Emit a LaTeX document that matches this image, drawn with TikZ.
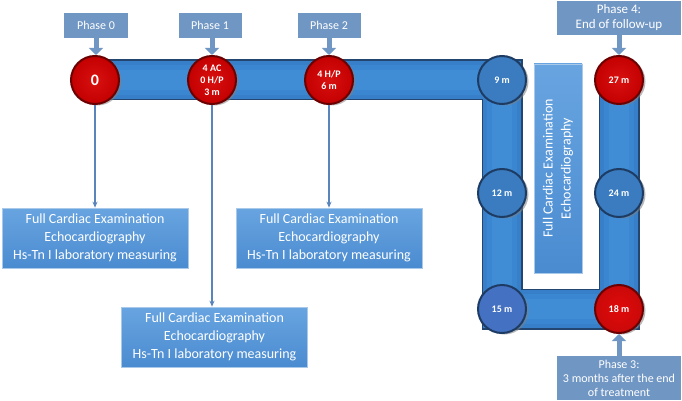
\documentclass[tikz,border=0pt]{standalone}
\usepackage{fontspec}
\setmainfont{Carlito}
\usetikzlibrary{arrows.meta,shadows}
\definecolor{phasecol}{HTML}{7096C4}
\definecolor{infotop}{HTML}{68A4E0}
\definecolor{infobot}{HTML}{4A8BD0}
\definecolor{infoedge}{HTML}{A9C9EA}
\definecolor{conncol}{HTML}{5A84BC}
\definecolor{bandedge}{HTML}{22466F}
\definecolor{bandblue}{HTML}{3780C9}
\definecolor{bandmid}{HTML}{3B86D0}
\definecolor{bandlight}{HTML}{408DD6}
\definecolor{redmain}{HTML}{C40000}
\definecolor{redlight}{HTML}{D81010}
\definecolor{reddark}{HTML}{6A0000}
\definecolor{brightred}{HTML}{E00A0A}
\definecolor{bluemain}{HTML}{3A7CBF}
\definecolor{bluedark}{HTML}{1E3C63}
\definecolor{purpblue}{HTML}{4471C2}
\begin{document}
\begin{tikzpicture}[x=1pt,y=-1pt,
  phasebox/.style={fill=phasecol, text=white, font=\fontsize{12}{14}\selectfont, align=center, inner sep=0pt},
  infobox/.style={top color=infotop, bottom color=infobot, draw=infoedge, line width=0.6pt, text=white,
    font=\fontsize{14}{18}\selectfont, align=center, minimum width=186pt, minimum height=60pt, inner sep=0pt},
  stage/.style={circle, minimum size=48pt, inner sep=0pt, line width=2pt, text=white,
    font=\bfseries\fontsize{10}{12}\selectfont, align=center,
    drop shadow={shadow xshift=2.5pt, shadow yshift=-1.5pt, opacity=0.55}},
  redstage/.style={stage, draw=reddark, inner color=redlight, outer color=redmain},
  brightstage/.style={stage, draw=reddark, inner color=brightred, outer color=brightred!90!black},
  bluestage/.style={stage, draw=bluedark, fill=bluemain},
  purpstage/.style={stage, draw=bluedark, fill=purpblue},
  conn/.style={draw=conncol, line width=1.2pt, -{Stealth[length=6pt,width=5pt]}},
  phasearrow/.style={draw=phasecol, line width=5pt, -{Triangle[length=7pt,width=14pt]}}
]
\useasboundingbox (0,0) rectangle (682,401);

% positions
\coordinate (p0) at (95,80);
\coordinate (p3) at (212,80);
\coordinate (p6) at (329,80);
\coordinate (p9) at (502,80);
\coordinate (p12) at (502,193);
\coordinate (p15) at (502,309);
\coordinate (p18) at (619,309);
\coordinate (p24) at (619,193);
\coordinate (p27) at (619,80);

% band
\draw[line width=41pt, bandedge, line join=miter] (p0) -- (p9) -- (p15) -- (p18) -- (p27);
\draw[line width=38pt, bandblue, line join=miter] (p0) -- (p9) -- (p15) -- (p18) -- (p27);
\draw[line width=30pt, bandmid, line join=miter] (p0) -- (p9) -- (p15) -- (p18) -- (p27);
\draw[line width=20pt, bandlight, line join=miter] (p0) -- (p9) -- (p15) -- (p18) -- (p27);

% stages
\node[redstage] (c0) at (p0) {\fontsize{16}{18}\selectfont 0};
\node[redstage] (c3) at (p3) {4 AC\\0 H/P\\3 m};
\node[redstage] (c6) at (p6) {4 H/P\\6 m};
\node[bluestage] (c9) at (p9) {9 m};
\node[bluestage] (c12) at (p12) {12 m};
\node[purpstage] (c15) at (p15) {15 m};
\node[brightstage] (c18) at (p18) {18 m};
\node[bluestage] (c24) at (p24) {24 m};
\node[redstage] (c27) at (p27) {27 m};

% phase labels
\node[phasebox, minimum width=64pt, minimum height=25pt] (ph0) at (96,25.5) {Phase 0};
\node[phasebox, minimum width=63pt, minimum height=25pt] (ph1) at (210,25.5) {Phase 1};
\node[phasebox, minimum width=63pt, minimum height=25pt] (ph2) at (329,25.5) {Phase 2};
\node[phasebox, minimum width=124pt, minimum height=34pt, font=\fontsize{13}{15}\selectfont] (ph4) at (619,18) {Phase 4:\\End of follow-up};
\node[phasebox, minimum width=124pt, minimum height=44pt] (ph3) at (619,378) {Phase 3:\\3 months after the end\\of treatment};

\draw[phasearrow] (ph0.south) -- (ph0.south |- c0.north);
\draw[phasearrow] (ph1.south -| c3) -- (c3.north);
\draw[phasearrow] (ph2.south) -- (ph2.south |- c6.north);
\draw[phasearrow] (ph4.south) -- (ph4.south |- c27.north);
\draw[phasearrow] (ph3.north) -- (ph3.north |- c18.south);

% info boxes
\node[infobox] (i0) at (95,238) {Full Cardiac Examination\\Echocardiography\\Hs-Tn I laboratory measuring};
\node[infobox] (i3) at (214.5,337) {Full Cardiac Examination\\Echocardiography\\Hs-Tn I laboratory measuring};
\node[infobox] (i6) at (329,238) {Full Cardiac Examination\\Echocardiography\\Hs-Tn I laboratory measuring};
\node[infobox, rotate=90, minimum width=209pt, minimum height=48pt] (iv) at (558,168.5) {Full Cardiac Examination\\Echocardiography};

\draw[conn] (c0.south) -- (c0.south |- i0.north);
\draw[conn] (c3.south) -- (c3.south |- i3.north);
\draw[conn] (c6.south) -- (c6.south |- i6.north);
\end{tikzpicture}
\end{document}
